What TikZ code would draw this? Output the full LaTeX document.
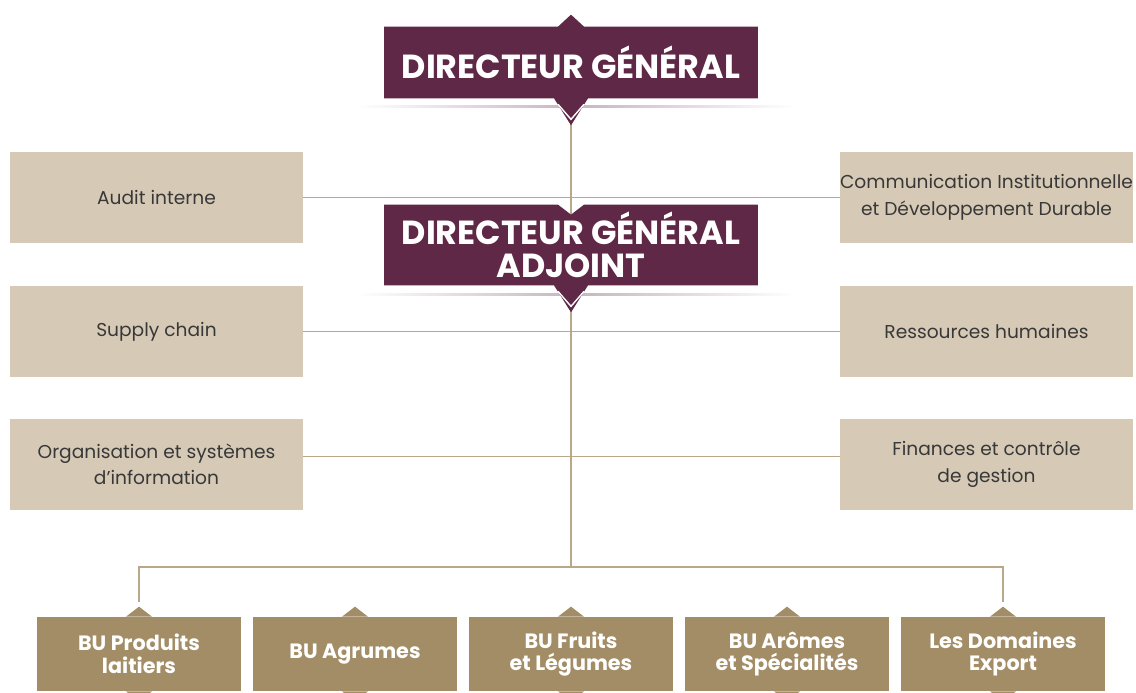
\documentclass[tikz,border=0pt]{standalone}
\usepackage{fontspec}
\setmainfont{Poppins}
\usetikzlibrary{calc, backgrounds}
\definecolor{bordeaux}{HTML}{5E2846}
\definecolor{sable}{HTML}{D6CAB6}
\definecolor{bronze}{HTML}{A38D66}
\definecolor{trait}{HTML}{B8A888}
\definecolor{encre}{HTML}{383838}
\tikzset{
  head/.style={minimum width=7.46cm, inner sep=0pt, text=white, align=center,
    font=\bfseries\fontsize{19}{18.5}\selectfont},
  side/.style={fill=sable, minimum width=5.86cm, minimum height=1.82cm, inner sep=0pt,
    text=encre, align=center, font=\fontsize{10.6}{15}\selectfont},
  bu/.style={fill=bronze, minimum width=4.08cm, minimum height=1.48cm, inner sep=0pt,
    text=white, align=center, font=\bfseries\fontsize{11.8}{13}\selectfont},
  link/.style={draw=trait, line width=1.1pt},
  ombre/.style={left color=white, right color=white, middle color=bordeaux!35},
}

\begin{document}
\begin{tikzpicture}[x=0.02cm, y=-0.02cm]
	\useasboundingbox (0,0) rectangle (1136,693);
	
	\node[head, minimum height=1.42cm] (dg) at (571,62.5) {DIRECTEUR GÉNÉRAL};
	\node[head, minimum height=1.6cm] (dga) at (571,245) {DIRECTEUR GÉNÉRAL\\ADJOINT};
	
	\node[side] (audit) at (156.5,197.5) {Audit interne};
	\node[side] (comm) at (986.5,197.5) {Communication Institutionnelle\\et Développement Durable};
	\node[side] (supply) at (156.5,331.5) {Supply chain};
	\node[side] (rh) at (986.5,331.5) {Ressources humaines};
	\node[side] (orga) at (156.5,464.5) {Organisation et systèmes\\d’information};
	\node[side] (fin) at (986.5,464.5) {Finances et contrôle\\de gestion};
	
	\node[bu] (bu1) at (139,654) {BU Produits\\laitiers};
	\node[bu] (bu2) at (355,654) {BU Agrumes};
	\node[bu] (bu3) at (571,654) {BU Fruits\\et Légumes};
	\node[bu] (bu4) at (787,654) {BU Arômes\\et Spécialités};
	\node[bu] (bu5) at (1003,654) {Les Domaines\\Export};
	
	\coordinate (bus) at (571,567);
	
	\begin{scope}[on background layer]
	\draw[link] (dg.south) -- (bus);
	\draw[link] (audit.east) -- (comm.west);
	\draw[link] (supply.east) -- (rh.west);
	\draw[link] ([yshift=0.16cm]orga.east) -- ([yshift=0.16cm]fin.west);
	\draw[link] ([yshift=0.3cm]bu1.north) |- (bus) -| ([yshift=0.3cm]bu5.north);
	
	\shade[ombre] (357,105) rectangle (795,107.5);
	\shade[ombre] (357,293) rectangle (795,295.5);
	
	\fill[bordeaux] (dg.north west) -- ($(dg.north)+(-13,0)$) -- ($(dg.north)+(0,-12)$)
		-- ($(dg.north)+(13,0)$) -- (dg.north east) -- (dg.south east)
		-- ($(dg.south)+(17,0)$) -- ($(dg.south)+(0,27)$) -- ($(dg.south)+(-17,0)$)
		-- (dg.south west) -- cycle;
	\fill[bordeaux] (dga.north west) -- ($(dga.north)+(-13,0)$) -- ($(dga.north)+(0,10)$)
		-- ($(dga.north)+(13,0)$) -- (dga.north east) -- (dga.south east)
		-- ($(dga.south)+(17,0)$) -- ($(dga.south)+(0,27)$) -- ($(dga.south)+(-17,0)$)
		-- (dga.south west) -- cycle;
	\foreach \h in {dg,dga}
		\draw[white, line width=0.8pt] ($(\h.south)+(-13,6)$) -- ($(\h.south)+(0,21)$) -- ($(\h.south)+(13,6)$);
	
	\foreach \b in {bu1,bu2,bu3,bu4,bu5} {
		\fill[bronze] ($(\b.north)+(-13,0)$) -- ($(\b.north)+(0,-10)$) -- ($(\b.north)+(13,0)$) -- cycle;
		\fill[bronze] ($(\b.south)+(-13,0)$) -- ($(\b.south)+(0,10)$) -- ($(\b.south)+(13,0)$) -- cycle;
	}
	\end{scope}
\end{tikzpicture}
\end{document}
